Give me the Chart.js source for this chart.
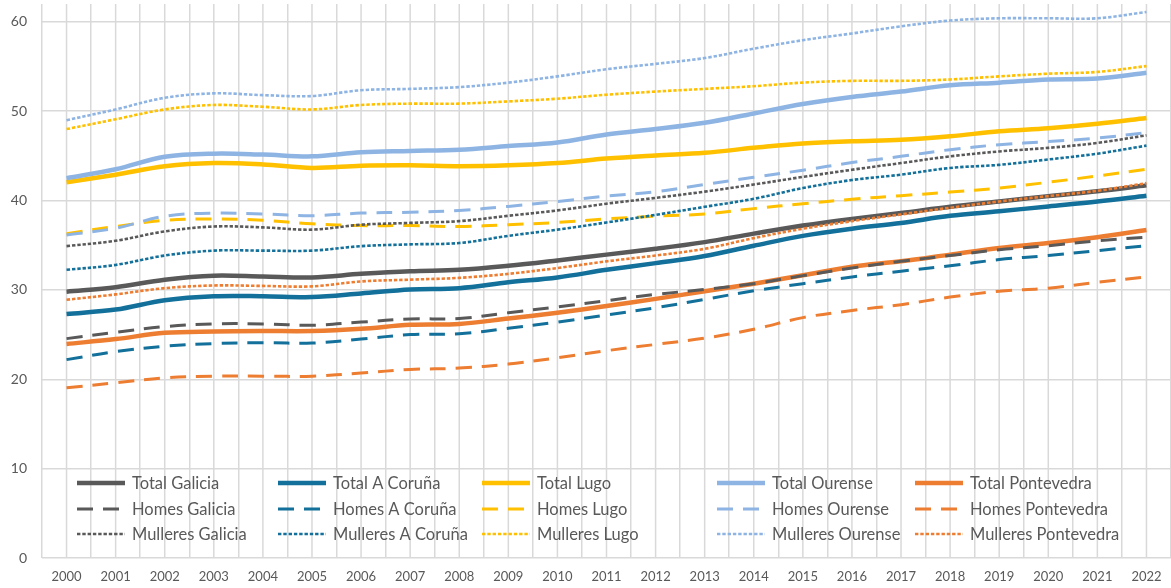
<!DOCTYPE html>
<html>
<head>
<meta charset="utf-8">
<script src="https://cdn.jsdelivr.net/npm/chart.js@4.4.1/dist/chart.umd.min.js"></script>
<style>
  html, body { margin: 0; padding: 0; background: #fff; }
  #wrap { width: 1171px; height: 588px; position: relative; }
</style>
</head>
<body>
<div id="wrap"><canvas id="chart"></canvas></div>
<script>
// anos
const years = ['2000','2001','2002','2003','2004','2005','2006','2007','2008','2009','2010','2011',
               '2012','2013','2014','2015','2016','2017','2018','2019','2020','2021','2022'];

const totalGalicia       = [29.8, 30.3, 31.15, 31.6, 31.5, 31.4, 31.8, 32.1, 32.25, 32.7, 33.3, 33.95, 34.6, 35.35, 36.3, 37.2, 37.95, 38.6, 39.3, 39.9, 40.5, 41.05, 41.7];
const totalCoruna        = [27.3, 27.8, 28.85, 29.3, 29.3, 29.2, 29.6, 30.05, 30.2, 30.85, 31.4, 32.25, 33.0, 33.8, 34.95, 36.05, 36.85, 37.5, 38.3, 38.8, 39.35, 39.9, 40.55];
const totalLugo          = [42.05, 42.9, 43.85, 44.2, 44.05, 43.65, 43.9, 43.95, 43.85, 43.95, 44.2, 44.7, 45.05, 45.35, 45.9, 46.4, 46.65, 46.8, 47.2, 47.75, 48.1, 48.6, 49.25];
const totalOurense       = [42.5, 43.5, 44.9, 45.25, 45.15, 44.95, 45.4, 45.55, 45.7, 46.1, 46.5, 47.4, 48.0, 48.7, 49.75, 50.8, 51.6, 52.2, 52.9, 53.2, 53.55, 53.65, 54.3];
const totalPontevedra    = [23.95, 24.5, 25.2, 25.35, 25.4, 25.4, 25.65, 26.1, 26.2, 26.8, 27.45, 28.2, 29.0, 29.85, 30.7, 31.65, 32.6, 33.2, 33.95, 34.7, 35.25, 35.9, 36.7];

const homesGalicia       = [24.55, 25.25, 25.9, 26.2, 26.2, 26.05, 26.4, 26.75, 26.8, 27.45, 28.1, 28.8, 29.5, 30.05, 30.7, 31.6, 32.45, 33.2, 33.85, 34.5, 34.95, 35.5, 35.9];
const homesCoruna        = [22.2, 23.1, 23.7, 24.0, 24.1, 24.05, 24.5, 25.0, 25.1, 25.7, 26.4, 27.2, 28.0, 28.95, 29.9, 30.7, 31.45, 32.1, 32.7, 33.4, 33.85, 34.4, 34.95];
const homesLugo          = [36.3, 37.1, 37.8, 37.95, 37.8, 37.4, 37.2, 37.2, 37.1, 37.3, 37.55, 37.95, 38.25, 38.5, 39.1, 39.65, 40.15, 40.55, 40.95, 41.4, 42.05, 42.75, 43.5];
const homesOurense       = [36.15, 36.9, 38.25, 38.6, 38.5, 38.3, 38.6, 38.7, 38.9, 39.35, 39.9, 40.5, 41.0, 41.8, 42.6, 43.4, 44.25, 44.95, 45.7, 46.25, 46.6, 47.0, 47.6];
const homesPontevedra    = [19.05, 19.6, 20.15, 20.35, 20.35, 20.35, 20.7, 21.1, 21.25, 21.7, 22.4, 23.2, 23.9, 24.6, 25.6, 26.9, 27.7, 28.35, 29.2, 29.85, 30.2, 30.85, 31.45];

const mulleresGalicia    = [34.9, 35.5, 36.55, 37.1, 37.0, 36.75, 37.3, 37.5, 37.7, 38.3, 38.9, 39.65, 40.3, 41.0, 41.8, 42.65, 43.45, 44.2, 44.95, 45.5, 45.9, 46.45, 47.3];
const mulleresCoruna     = [32.25, 32.8, 33.85, 34.4, 34.4, 34.4, 34.9, 35.1, 35.25, 36.05, 36.75, 37.55, 38.4, 39.3, 40.2, 41.4, 42.3, 42.9, 43.65, 44.0, 44.6, 45.25, 46.15];
const mulleresLugo       = [48.0, 49.1, 50.2, 50.7, 50.5, 50.2, 50.7, 50.85, 50.85, 51.1, 51.4, 51.85, 52.2, 52.5, 52.8, 53.2, 53.4, 53.4, 53.55, 53.9, 54.2, 54.4, 55.05];
const mulleresOurense    = [49.0, 50.2, 51.5, 52.0, 51.8, 51.7, 52.35, 52.5, 52.7, 53.2, 53.9, 54.7, 55.3, 55.95, 57.0, 57.95, 58.7, 59.5, 60.15, 60.4, 60.4, 60.4, 61.1];
const mulleresPontevedra = [28.9, 29.5, 30.2, 30.5, 30.45, 30.4, 30.95, 31.15, 31.35, 31.8, 32.45, 33.2, 33.85, 34.6, 35.8, 36.85, 37.7, 38.45, 39.2, 39.9, 40.5, 41.1, 41.95];

const yTicks = [0, 10, 20, 30, 40, 50, 60];

const GALICIA = '#595959', CORUNA = '#12709A', LUGO = '#FFC000', OURENSE = '#8EB4E3', PONTEVEDRA = '#ED7D31';
const TXT = '#595959', GRID = '#D9D9D9';
const FONT = 'Lato, "Open Sans", sans-serif';

function serie(label, data, color, kind, i) {
  const ds = {
    label: label,
    data: data,
    borderColor: color,
    backgroundColor: color,
    pointRadius: 0,
    pointHoverRadius: 0,
    fill: false,
    tension: 0.35,
    order: -i,
    borderCapStyle: 'butt'
  };
  if (kind == 'total') { ds.borderWidth = 4.5; }
  if (kind == 'homes') { ds.borderWidth = 3; ds.borderDash = [16, 10]; }
  if (kind == 'mulleres') { ds.borderWidth = 2.6; ds.borderDash = [3.4, 1.9]; }
  return ds;
}

// same order as the legend rows
const series = [
  ['Total Galicia', totalGalicia, GALICIA, 'total'],
  ['Total A Coruña', totalCoruna, CORUNA, 'total'],
  ['Total Lugo', totalLugo, LUGO, 'total'],
  ['Total Ourense', totalOurense, OURENSE, 'total'],
  ['Total Pontevedra', totalPontevedra, PONTEVEDRA, 'total'],
  ['Homes Galicia', homesGalicia, GALICIA, 'homes'],
  ['Homes A Coruña', homesCoruna, CORUNA, 'homes'],
  ['Homes Lugo', homesLugo, LUGO, 'homes'],
  ['Homes Ourense', homesOurense, OURENSE, 'homes'],
  ['Homes Pontevedra', homesPontevedra, PONTEVEDRA, 'homes'],
  ['Mulleres Galicia', mulleresGalicia, GALICIA, 'mulleres'],
  ['Mulleres A Coruña', mulleresCoruna, CORUNA, 'mulleres'],
  ['Mulleres Lugo', mulleresLugo, LUGO, 'mulleres'],
  ['Mulleres Ourense', mulleresOurense, OURENSE, 'mulleres'],
  ['Mulleres Pontevedra', mulleresPontevedra, PONTEVEDRA, 'mulleres']
];

const legendCols = [77, 278, 482, 717, 915];
const legendRows = [483, 509, 534];

// extra vertical lines at each year (Excel minor gridlines)
const midGrid = {
  id: 'midGrid',
  beforeDatasetsDraw(chart) {
    const ctx = chart.ctx, x = chart.scales.x, a = chart.chartArea;
    ctx.save();
    ctx.strokeStyle = GRID;
    ctx.lineWidth = 1.5;
    years.forEach((y, i) => {
      const px = x.getPixelForValue(i);
      ctx.beginPath();
      ctx.moveTo(px, a.top);
      ctx.lineTo(px, a.bottom);
      ctx.stroke();
    });
    ctx.restore();
  }
};

const legendBox = {
  id: 'legendBox',
  afterDatasetsDraw(chart) {
    const ctx = chart.ctx;
    ctx.save();
    ctx.font = '16.5px ' + FONT;
    ctx.fillStyle = TXT;
    ctx.textBaseline = 'middle';
    chart.data.datasets.forEach((ds, i) => {
      const x = legendCols[i % 5], y = legendRows[Math.floor(i / 5)];
      ctx.beginPath();
      ctx.strokeStyle = ds.borderColor;
      ctx.lineWidth = ds.borderWidth;
      ctx.lineCap = 'butt';
      ctx.setLineDash(ds.borderDash || []);
      ctx.moveTo(x, y);
      ctx.lineTo(x + 48, y);
      ctx.stroke();
      ctx.setLineDash([]);
      ctx.fillText(ds.label, x + 55, y + 1);
    });
    ctx.restore();
  }
};

new Chart(document.getElementById('chart'), {
  type: 'line',
  data: {
    labels: years,
    datasets: series.map((s, i) => serie(s[0], s[1], s[2], s[3], i))
  },
  options: {
    responsive: true,
    maintainAspectRatio: false,
    animation: false,
    layout: { padding: { top: 4, right: 0, left: 0, bottom: 0 } },
    plugins: {
      legend: { display: false },
      tooltip: { enabled: false }
    },
    scales: {
      x: {
        offset: true,
        grid: { color: GRID, lineWidth: 1.5, offset: true, drawTicks: false },
        border: { display: false },
        ticks: { color: TXT, font: { family: FONT, size: 13 }, padding: 11, maxRotation: 0, autoSkip: false },
        afterFit(scale) { scale.height = 30; scale.paddingLeft = 0; scale.paddingRight = 0; }
      },
      y: {
        min: 0,
        max: 62,
        grid: { color: GRID, lineWidth: 1.5, drawTicks: false },
        border: { display: false },
        ticks: { color: TXT, font: { family: FONT, size: 14 }, padding: 15, stepSize: 10 },
        afterBuildTicks(scale) { scale.ticks = yTicks.map(v => ({ value: v })); },
        afterFit(scale) { scale.width = 42; scale.paddingTop = 0; scale.paddingBottom = 0; }
      }
    }
  },
  plugins: [midGrid, legendBox]
});
</script>
</body>
</html>
